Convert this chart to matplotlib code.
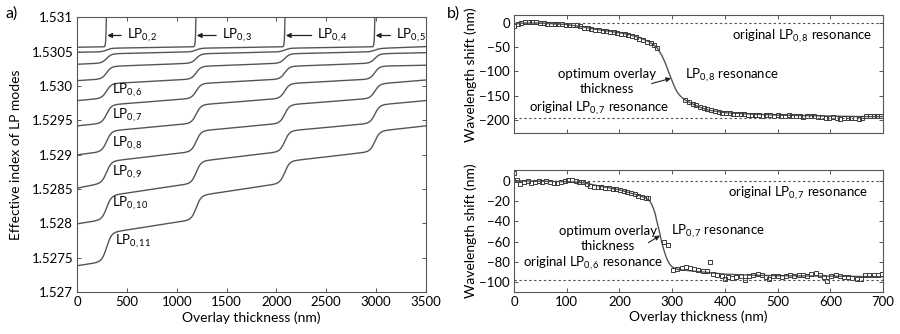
import matplotlib
matplotlib.use('Agg')
import matplotlib.pyplot as plt
import numpy as np

plt.rcParams['font.family'] = ['Lato', 'DejaVu Sans']
plt.rcParams['mathtext.fontset'] = 'custom'
plt.rcParams['mathtext.rm'] = 'Lato'
plt.rcParams['mathtext.it'] = 'Lato:italic'
plt.rcParams['font.size'] = 9

# ---- a) effective index of LP0,m cladding modes vs overlay thickness ----
mode_names = ['2', '3', '4', '5', '6', '7', '8', '9', '10', '11']
# index of each level at zero thickness (LP0,2 ... LP0,11)
level_x0 = [1.530564, 1.530491, 1.530316, 1.530078, 1.529787,
            1.529419, 1.528997, 1.528513, 1.527993, 1.527383]
# plateau value just after a transition and just before the next one
plateau_start = [1.530553, 1.530473, 1.530292, 1.530044, 1.529739,
                 1.529361, 1.528924, 1.528430, 1.527892, 1.527300]
plateau_end = [1.530568, 1.530495, 1.530328, 1.530095, 1.529812,
               1.529448, 1.529033, 1.528568, 1.528037, 1.527426]
level_3500 = [1.530573, 1.530485, 1.530302, 1.530087, 1.529787, 1.529419]
# transition thicknesses (nm): lower modes step up, top mode leaves
t_rise = [295, 1195, 2085, 2990]
t_exit = [300, 1200, 2095, 2998]

# ---- b) measured wavelength shift during overlay deposition ----
top_x = [0, 7, 14, 21, 28, 35, 42, 49, 56, 63, 70, 77, 84, 91, 98, 105, 112,
         119, 126, 133, 140, 147, 154, 161, 168, 175, 182, 189, 196, 203, 210,
         217, 224, 231, 238, 245, 252, 259, 266, 272,
         325, 332, 339, 346, 353, 360, 367, 374, 381, 388, 395, 402, 409, 416,
         423, 430, 437, 444, 451, 458, 465, 472, 479, 486, 493, 500, 507, 514,
         521, 528, 535, 542, 549, 556, 563, 570, 577, 584, 591, 598, 605, 612,
         619, 626, 633, 640, 647, 654, 661, 668, 675, 682, 689, 696]
top_y = [-7, -1, 1, 2, 2, 2, 1.5, 1, 0, -3, -2, -2, -2.5, -3, -3.5, -4, -4.5,
         -5, -7, -10, -11, -12, -13.5, -15, -16, -17, -18.5, -19.5, -21, -22,
         -23, -24.5, -27, -29.5, -32, -35, -38.5, -42, -46, -51,
         -158, -163, -167, -170, -173, -176, -178, -180, -182, -183, -185, -186,
         -186, -187, -188, -187, -188, -189, -190, -189, -190, -191, -189, -190,
         -191, -190, -192, -191, -190, -191, -192, -191, -193, -192, -191, -192,
         -193, -194, -197, -195, -193, -196, -198, -197, -195, -196, -197, -198,
         -196, -192, -191, -192, -191, -192]
top_fit_x = [0, 20, 50, 80, 100, 130, 150, 180, 200, 220, 240, 255, 265, 272,
             280, 286, 290, 294, 298, 302, 306, 310, 315, 320, 325, 335, 350,
             370, 400, 450, 500, 550, 600, 650, 700]
top_fit_y = [-2, 0, 0, -2, -3, -8, -12, -17, -20, -24, -31, -38, -45, -52,
             -66, -80, -91, -103, -114, -125, -135, -143, -150, -155, -159,
             -165, -173, -180, -185, -188, -190, -191, -192, -193, -193]
top_orig = [0, -196]

bot_x = [0, 5, 12, 19, 26, 33, 40, 47, 54, 61, 68, 75, 82, 89, 96, 103, 110,
         117, 124, 131, 138, 145, 152, 159, 166, 173, 180, 187, 194, 201, 208,
         215, 222, 229, 236, 243, 250, 255, 285, 292,
         302, 310, 318, 326, 334, 342, 350, 358, 366, 371, 378, 386, 394, 400,
         406, 414, 422, 430, 438, 446, 454, 462, 470, 478, 484, 492, 500, 508,
         516, 524, 532, 540, 548, 556, 564, 572, 580, 588, 594, 602, 610, 618,
         626, 634, 642, 650, 658, 666, 674, 682, 690, 698]
bot_y = [8, 1, -3, -1, 0, -2, -1, 0, -1, 0, -1, -2, -2, -1, 0, 1, 1, 0, -1,
         -1, -3, -5, -6, -6, -6.5, -7, -7.5, -8, -8.5, -9, -10, -11, -12, -13,
         -15, -16, -17, -17.5, -60, -63,
         -88, -87, -86, -85, -86, -87, -88, -89, -89, -80, -92, -93, -94, -97,
         -95, -96, -95, -94, -98, -94, -93, -92, -93, -95, -97, -94, -94, -95,
         -94, -93, -94, -93, -93, -94, -92, -91, -93, -95, -99, -94, -93, -94,
         -95, -95, -96, -97, -97, -93, -93, -93, -93, -92]
bot_fit_x = [0, 50, 100, 130, 150, 180, 200, 220, 240, 250, 256, 261, 265,
             268, 271, 274, 277, 280, 283, 286, 290, 294, 298, 304, 312, 330,
             360, 400, 450, 500, 600, 700]
bot_fit_y = [0, -0.5, -1, -2, -4, -7, -9, -12, -15, -17, -19, -23, -28, -33,
             -40, -46, -53, -60, -66, -71, -77, -81, -84, -86, -87.5, -88.5,
             -90, -92, -93, -93.5, -94, -94.5]
bot_orig = [0, -97.5]

line_c = '#555555'
frame_c = '#555555'
txt = 9.5


def sig(z):
    return 1.0 / (1.0 + np.exp(-np.clip(z, -60, 60)))


def line_through(x, x1, y1, x2, y2):
    return y1 + (y2 - y1) * (x - x1) / (x2 - x1)


def mode_curve(j, x):
    # plateau line for each segment the mode passes through
    def plateau(s):
        k = j - s
        if s == 0:
            return line_through(x, 0, level_x0[k], t_rise[0] - 100, plateau_end[k])
        if s == 4:
            return line_through(x, t_rise[3] + 150, plateau_start[k], 3500, level_3500[k])
        return line_through(x, t_rise[s - 1] + 150, plateau_start[k],
                            t_rise[s] - 100, plateau_end[k])

    v = plateau(0)
    for s in range(4):
        if j - s - 1 >= 0:
            w = sig((x - t_rise[s]) / 24.0)
            v = (1 - w) * v + w * plateau(s + 1)
        else:
            w = sig((x - t_exit[s]) / 4.0)
            v = (1 - w) * v + w * 1.5345
            break
    return v


def style_axes(ax):
    for sp in ax.spines.values():
        sp.set_color(frame_c)
        sp.set_linewidth(0.8)
    ax.tick_params(direction='in', top=True, right=True, length=3,
                   width=0.7, color=frame_c, labelsize=9.5, pad=3)


fig = plt.figure(figsize=(9, 3.34), dpi=100)

ax = fig.add_axes([0.0859, 0.1257, 0.387, 0.8225])
xs = np.linspace(0, 3500, 3501)
for j in range(len(mode_names)):
    ax.plot(xs, mode_curve(j, xs), color=line_c, lw=1.0)
ax.set_xlim(0, 3500)
ax.set_ylim(1.527, 1.531)
ax.set_xticks(np.arange(0, 3501, 500))
yt = [1.527, 1.5275, 1.528, 1.5285, 1.529, 1.5295, 1.530, 1.5305, 1.531]
ax.set_yticks(yt)
ax.set_yticklabels(['1.527', '1.5275', '1.528', '1.5285', '1.529', '1.5295',
                    '1.530', '1.5305', '1.531'])
style_axes(ax)
ax.set_xlabel('Overlay thickness (nm)', fontsize=10, labelpad=2)
ax.set_ylabel('Effective index of LP modes', fontsize=10, labelpad=7)

# labels for the modes that leave at each transition
top_label_x = [496, 1451, 2411, 3202]
for m, tip, tx in zip(mode_names[:4], t_exit, top_label_x):
    ax.annotate('LP$_{0,%s}$' % m, xy=(tip, 1.530735), xytext=(tx, 1.530735),
                ha='left', va='center', fontsize=txt,
                arrowprops=dict(arrowstyle='-|>', color='#222222', lw=0.9,
                                mutation_scale=7, shrinkA=2, shrinkB=0))
side_label_x = [345, 345, 345, 345, 345, 380]
side_label_y = [1.529943, 1.529579, 1.529167, 1.528740, 1.528295, 1.527736]
for m, lx, ly in zip(mode_names[4:], side_label_x, side_label_y):
    ax.text(lx, ly, 'LP$_{0,%s}$' % m, ha='left', va='center', fontsize=txt)

fig.text(0.006, 0.96, 'a)', fontsize=11.5, va='center')
fig.text(0.497, 0.96, 'b)', fontsize=11.5, va='center')

# top right: LP0,8 resonance
ax1 = fig.add_axes([0.5711, 0.6003, 0.41, 0.3547])
ax1.plot(top_fit_x, top_fit_y, color=line_c, lw=1.0)
ax1.plot(top_x, top_y, ls='none', marker='s', ms=3.3, mfc='none',
         mec='#3a3a3a', mew=0.7)
for yv in top_orig:
    ax1.axhline(yv, color=line_c, lw=0.8, ls=(0, (2.2, 2.2)))
ax1.set_xlim(0, 700)
ax1.set_ylim(-228, 16.5)
ax1.set_xticks(np.arange(0, 701, 100))
ax1.set_xticklabels([])
ax1.set_yticks([0, -50, -100, -150, -200])
style_axes(ax1)
ax1.set_ylabel('Wavelength shift (nm)', fontsize=10)
ax1.text(680, -27, 'original LP$_{0,8}$ resonance', ha='right', va='center',
         fontsize=txt)
ax1.text(176, -121, 'optimum overlay\nthickness', ha='center', va='center',
         fontsize=txt, linespacing=1.25)
ax1.text(324, -108, 'LP$_{0,8}$ resonance', ha='left', va='center', fontsize=txt)
ax1.text(28, -176, 'original LP$_{0,7}$ resonance', ha='left', va='center',
         fontsize=txt)
ax1.annotate('', xy=(298, -114), xytext=(261, -125),
             arrowprops=dict(arrowstyle='-|>', color='#222222', lw=0.8,
                             mutation_scale=7, shrinkA=0, shrinkB=0))

# bottom right: LP0,7 resonance
ax2 = fig.add_axes([0.5711, 0.1266, 0.41, 0.3644])
ax2.plot(bot_fit_x, bot_fit_y, color=line_c, lw=1.0)
ax2.plot(bot_x, bot_y, ls='none', marker='s', ms=3.3, mfc='none',
         mec='#3a3a3a', mew=0.7)
for yv in bot_orig:
    ax2.axhline(yv, color=line_c, lw=0.8, ls=(0, (2.2, 2.2)))
ax2.set_xlim(0, 700)
ax2.set_ylim(-109.3, 10.5)
ax2.set_xticks(np.arange(0, 701, 100))
ax2.set_yticks([0, -20, -40, -60, -80, -100])
style_axes(ax2)
ax2.set_xlabel('Overlay thickness (nm)', fontsize=10, labelpad=2)
ax2.set_ylabel('Wavelength shift (nm)', fontsize=10)
ax2.text(672, -12.5, 'original LP$_{0,7}$ resonance', ha='right', va='center',
         fontsize=txt)
ax2.text(179, -57, 'optimum overlay\nthickness', ha='center', va='center',
         fontsize=txt, linespacing=1.25)
ax2.text(297, -50, 'LP$_{0,7}$ resonance', ha='left', va='center', fontsize=txt)
ax2.text(18, -81.5, 'original LP$_{0,6}$ resonance', ha='left', va='center',
         fontsize=txt)
ax2.annotate('', xy=(277, -54), xytext=(255, -61),
             arrowprops=dict(arrowstyle='-|>', color='#222222', lw=0.8,
                             mutation_scale=7, shrinkA=0, shrinkB=0))

ax1.yaxis.set_label_coords(-0.1, 0.5)
ax2.yaxis.set_label_coords(-0.1, 0.5)

fig.savefig('out.png', dpi=100)
